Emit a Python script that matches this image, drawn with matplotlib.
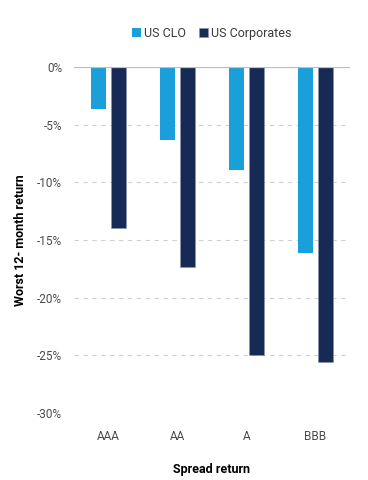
import numpy as np
import matplotlib.pyplot as plt

plt.rcParams['font.family'] = ['Roboto', 'DejaVu Sans']

ratings = ['AAA', 'AA', 'A', 'BBB']
clo = [-3.6, -6.35, -8.9, -16.1]
corporates = [-14.0, -17.3, -25.0, -25.6]
yticks = [0, -5, -10, -15, -20, -25, -30]

clo_color = '#1a9fdb'
corp_color = '#172a55'

fig = plt.figure(figsize=(3.68, 4.80), dpi=100)
ax = fig.add_axes([0.201, 0.1396, 0.75, 0.7208])

x = np.arange(len(ratings))
w = 0.22
off = 0.142
ax.bar(x - off, clo, w, color=clo_color, label='US CLO', zorder=3)
ax.bar(x + off, corporates, w, color=corp_color, label='US Corporates', zorder=3,
       edgecolor='#8a94aa', linewidth=0.4)

ax.set_xlim(-0.5, 3.5)
ax.set_ylim(-30, 0)
ax.set_yticks(yticks)
ax.set_yticklabels([f'{t}%' for t in yticks])
ax.set_xticks(x)
ax.set_xticklabels(ratings)

for t in yticks[1:]:
    ax.axhline(t, color='#d0d0d0', lw=0.8, ls=(0, (4, 4)), zorder=1)
ax.axhline(0, color='#bdbdbd', lw=0.9, zorder=4)

for s in ax.spines.values():
    s.set_visible(False)
ax.tick_params(axis='both', length=0, labelsize=8.5, labelcolor='#4a4a4a')
ax.tick_params(axis='y', pad=8.5)
ax.tick_params(axis='x', pad=12)

ax.set_ylabel('Worst 12- month return', fontsize=9, fontweight='bold', labelpad=7)
ax.set_xlabel('Spread return', fontsize=9, fontweight='bold', labelpad=15)

ax.legend(loc='lower center', bbox_to_anchor=(0.5, 1.045), ncol=2, frameon=False,
          fontsize=9, handlelength=0.7, handleheight=0.7, handletextpad=0.3,
          columnspacing=1.0, labelcolor='#3a3a3a')

fig.savefig('out.png', dpi=100)
